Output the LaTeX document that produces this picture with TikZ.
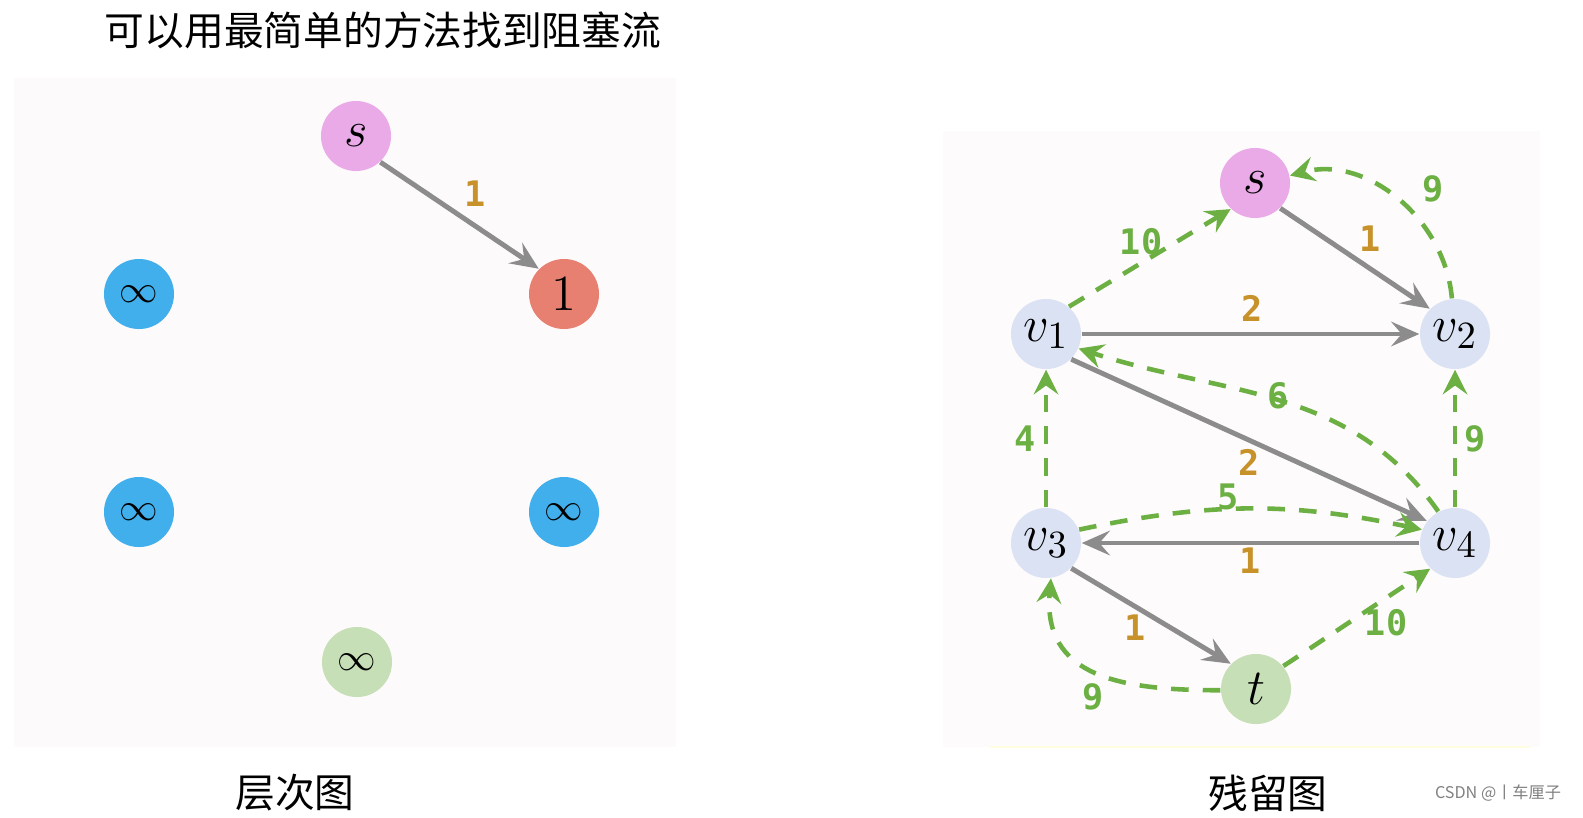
\documentclass[tikz,border=0pt]{standalone}
\usepackage{fontspec}
\newfontfamily\cjk{Noto Sans CJK SC}
\newfontfamily\lblfont{DejaVu Sans Mono}
\usetikzlibrary{arrows.meta}
\definecolor{srcpink}{RGB}{234,170,232}
\definecolor{hitred}{RGB}{232,128,114}
\definecolor{infblue}{RGB}{64,175,235}
\definecolor{sinkgreen}{RGB}{198,223,182}
\definecolor{vertblue}{RGB}{218,226,243}
\definecolor{edgegray}{RGB}{140,140,140}
\definecolor{capgold}{RGB}{200,146,42}
\definecolor{resgreen}{RGB}{108,176,68}
\definecolor{panelbg}{RGB}{253,250,251}

\begin{document}
\begin{tikzpicture}[x=0.01cm, y=0.01cm,
    vertex/.style={circle, inner sep=0pt, minimum size=0.7cm, font=\fontsize{15}{15}\selectfont},
    infnode/.style={vertex, fill=infblue, font=\fontsize{11}{11}\selectfont},
    flow/.style={-{Stealth[length=8pt, width=7pt, inset=3pt]}, edgegray, line width=1.4pt},
    residual/.style={-{Stealth[length=7pt, width=7pt, inset=2.5pt]}, resgreen, line width=1.3pt, dash pattern=on 5pt off 4pt},
    caplbl/.style={font=\lblfont\bfseries\fontsize{10}{10}\selectfont, capgold, inner sep=0pt},
    reslbl/.style={font=\lblfont\bfseries\fontsize{10}{10}\selectfont, resgreen, inner sep=0pt},
    caption/.style={font=\cjk\fontsize{11.3}{11.3}\selectfont}
]

\useasboundingbox (0,0) rectangle (1583,817);

% Panels
\fill[panelbg] (14,70) rectangle (676,739);
\fill[panelbg!70!white] (943,70) rectangle (1540,686);
\fill[yellow!12] (990,69) rectangle (1530,71);

% Texts
\node[caption] (title) at (383,787) {可以用最简单的方法找到阻塞流};
\node[caption] (levelcap) at (295,24) {层次图};
\node[caption] (rescap) at (1268,24) {残留图};
\node[font=\cjk\fontsize{4.6}{4.6}\selectfont, gray] (mark) at (1498,24) {CSDN @丨车厘子};

% Level graph
\node[vertex, fill=srcpink] (Ls) at (356,681) {$s$};
\node[vertex, fill=hitred] (L1) at (564,523) {$1$};
\node[infnode] (LinfA) at (139,523) {$\infty$};
\node[infnode] (LinfB) at (139,305) {$\infty$};
\node[infnode] (LinfC) at (564,305) {$\infty$};
\node[vertex, fill=sinkgreen, font=\fontsize{11}{11}\selectfont] (Lt) at (357,155) {$\infty$};

\draw[flow] (Ls.-47) -- (L1.135);
\node[caplbl] (Lc1) at (475,623) {1};

% Residual graph
\node[vertex, fill=srcpink] (s) at (1255,634) {$s$};
\node[vertex, fill=vertblue] (v1) at (1046,483) {$v_1$};
\node[vertex, fill=vertblue] (v2) at (1455,483) {$v_2$};
\node[vertex, fill=vertblue] (v3) at (1046,274) {$v_3$};
\node[vertex, fill=vertblue] (v4) at (1455,274) {$v_4$};
\node[vertex, fill=sinkgreen] (t) at (1256,128) {$t$};

% Remaining capacity
\draw[flow] (s.-45) -- (v2.135);
\draw[flow] (v1) -- (v2);
\draw[flow] (v1.-45) -- (v4.142);
\draw[flow] (v4) -- (v3);
\draw[flow] (v3.-45) -- (t.135);

\node[caplbl] (c12) at (1370,578) {1};
\node[caplbl] (c22) at (1252,509) {2};
\node[caplbl] (c14) at (1249,355) {2};
\node[caplbl] (c43) at (1250,256) {1};
\node[caplbl] (c3t) at (1135,189) {1};

% Reverse edges
\draw[residual] (v1.50) -- (s.227);
\draw[residual] (v2.95) to[out=95, in=15] (s.12);
\draw[residual] (v4.118) to[out=125, in=-18] (v1.-24);
\draw[residual] (v4) -- (v2);
\draw[residual] (v3) -- (v1);
\draw[residual] (v3.22) to[bend left=12] (v4.158);
\draw[residual] (t.40) -- (v4.226);
\draw[residual] (t.182) to[out=180, in=-95, looseness=1.25] (v3.-82);

\node[reslbl] (r1s) at (1141,575) {10};
\node[reslbl] (r2s) at (1433,628) {9};
\node[reslbl] (r41) at (1278,421) {6};
\node[reslbl] (r42) at (1475,378) {9};
\node[reslbl] (r31) at (1025,378) {4};
\node[reslbl] (r34) at (1228,320) {5};
\node[reslbl] (rt4) at (1386,194) {10};
\node[reslbl] (rt3) at (1093,120) {9};

\end{tikzpicture}
\end{document}
